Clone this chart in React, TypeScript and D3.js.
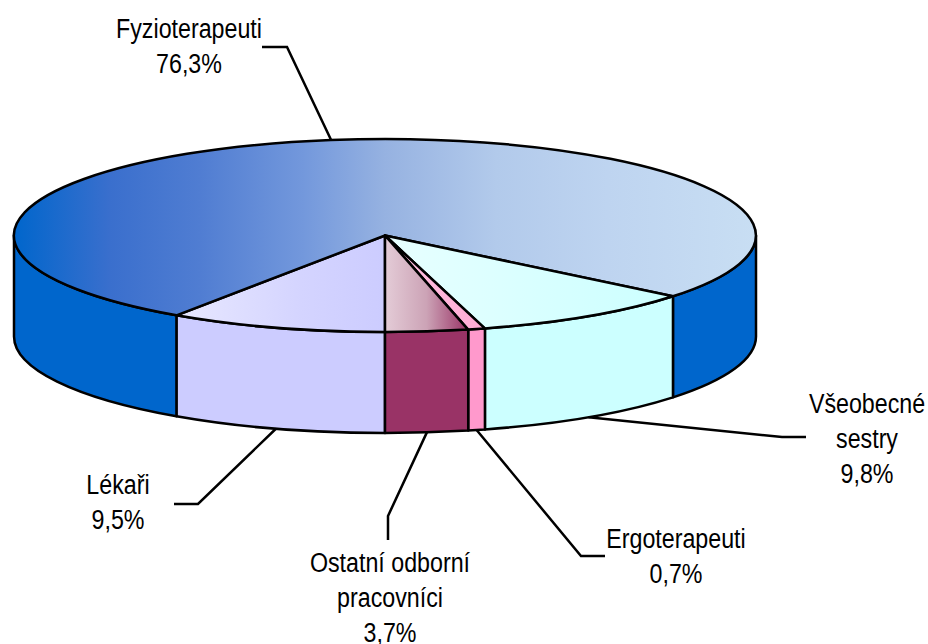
import * as d3 from "d3";

const categories = ["Lékaři", "Fyzioterapeuti", "Všeobecné sestry", "Ergoterapeuti", "Ostatní odborní pracovníci"];
const shares = [9.5, 76.34, 9.8, 0.74, 3.6];
const shareLabels = ["9,5%", "76,3%", "9,8%", "0,7%", "3,7%"];
const labelLines = [["Lékaři"], ["Fyzioterapeuti"], ["Všeobecné", "sestry"], ["Ergoterapeuti"], ["Ostatní odborní", "pracovníci"]];
const wallColors = ["#ccccff", "#0066cc", "#ccffff", "#ff99cc", "#993366"];
const topStops: [number, string][][] = [
  [[0, "#e8e8ff"], [0.6, "#d4d4ff"], [1, "#ccccff"]],
  [[0, "#0066cc"], [0.13, "#3a6fcd"], [0.25, "#507dd2"], [0.39, "#7398dc"], [0.5, "#96b2e1"], [0.65, "#b2caeb"], [0.8, "#bed4f0"], [1, "#c8def3"]],
  [[0, "#e8ffff"], [0.6, "#d6ffff"], [1, "#ccffff"]],
  [[0, "#ffc4e2"], [1, "#ffaad4"]],
  [[0, "#e4ccd7"], [0.5, "#cca3b6"], [1, "#993366"]],
];

// label anchor x, first baseline, and the leader's elbow + end next to the text
const labelX = [118, 189, 867, 676, 390];
const labelY = [494, 38, 413, 548, 572];
const elbows = [[198, 504, 174, 504], [287, 47, 262, 47], [782, 437, 806, 437], [581, 556, 605, 556], [388, 516, 388, 540]];

const cx = 385;
const cy = 235.5;
const rx = 371;
const ry = 96.5;
const depth = 101;
const lineHeight = 35;

const pie = d3.pie<number>().sort(null).startAngle(Math.PI).endAngle(3 * Math.PI);
const arcs = pie(shares);
const unitArc = d3.arc<d3.PieArcDatum<number>>().innerRadius(0).outerRadius(1);

const px = (a: number) => cx + rx * Math.sin(a);
const py = (a: number) => cy - ry * Math.cos(a);

// part of a slice that faces the viewer, i.e. between 90 and 270 degrees
const wallRanges = (a0: number, a1: number) => {
  const out: [number, number][] = [];
  [0, 2 * Math.PI].forEach((shift) => {
    const s = Math.max(a0, Math.PI / 2 + shift);
    const e = Math.min(a1, (3 * Math.PI) / 2 + shift);
    if (e > s) out.push([s, e]);
  });
  return out;
};

const wallPath = ([s, e]: [number, number]) =>
  `M${px(s)},${py(s)}A${rx},${ry} 0 0 1 ${px(e)},${py(e)}` +
  `L${px(e)},${py(e) + depth}A${rx},${ry} 0 0 0 ${px(s)},${py(s) + depth}Z`;

const font = "'Liberation Sans', Arial, sans-serif";

export default function App() {
  return (
    <svg width={928} height={644} style={{ position: "absolute", left: 0, top: 0 }}>
      <defs>
        {topStops.map((stops, i) => (
          <linearGradient key={i} id={`top-${i}`} x1="0" x2="1" y1="0" y2="0">
            {stops.map(([offset, c], j) => (
              <stop key={j} offset={offset} stopColor={c} />
            ))}
          </linearGradient>
        ))}
      </defs>

      {arcs.map((d, i) =>
        wallRanges(d.startAngle, d.endAngle).map((r, j) => (
          <path key={`${i}-${j}`} d={wallPath(r)} fill={wallColors[i]} stroke="#000" strokeWidth={2.5} strokeLinejoin="round" />
        ))
      )}

      <g transform={`translate(${cx},${cy}) scale(${rx},${ry})`}>
        {arcs.map((d, i) => (
          <path
            key={categories[i]}
            d={unitArc(d)!}
            fill={`url(#top-${i})`}
            stroke="#000"
            strokeWidth={2.5}
            strokeLinejoin="round"
            vectorEffect="non-scaling-stroke"
          />
        ))}
      </g>

      {arcs.map((d, i) => {
        const mid = (d.startAngle + d.endAngle) / 2;
        const onWall = Math.cos(mid) < 0;
        const sx = px(mid);
        const sy = py(mid) + (onWall ? depth : 0);
        const [ex, ey, tx, ty] = elbows[i];
        return (
          <polyline
            key={i}
            points={`${sx},${sy} ${ex},${ey} ${tx},${ty}`}
            fill="none"
            stroke="#000"
            strokeWidth={2.5}
          />
        );
      })}

      {categories.map((c, i) =>
        [...labelLines[i], shareLabels[i]].map((line, j) => (
          <text
            key={`${c}-${j}`}
            transform={`translate(${labelX[i]},${labelY[i] + j * lineHeight}) scale(0.83,1)`}
            textAnchor="middle"
            fontFamily={font}
            fontSize={28}
            fill="#000"
          >
            {line}
          </text>
        ))
      )}
    </svg>
  );
}
